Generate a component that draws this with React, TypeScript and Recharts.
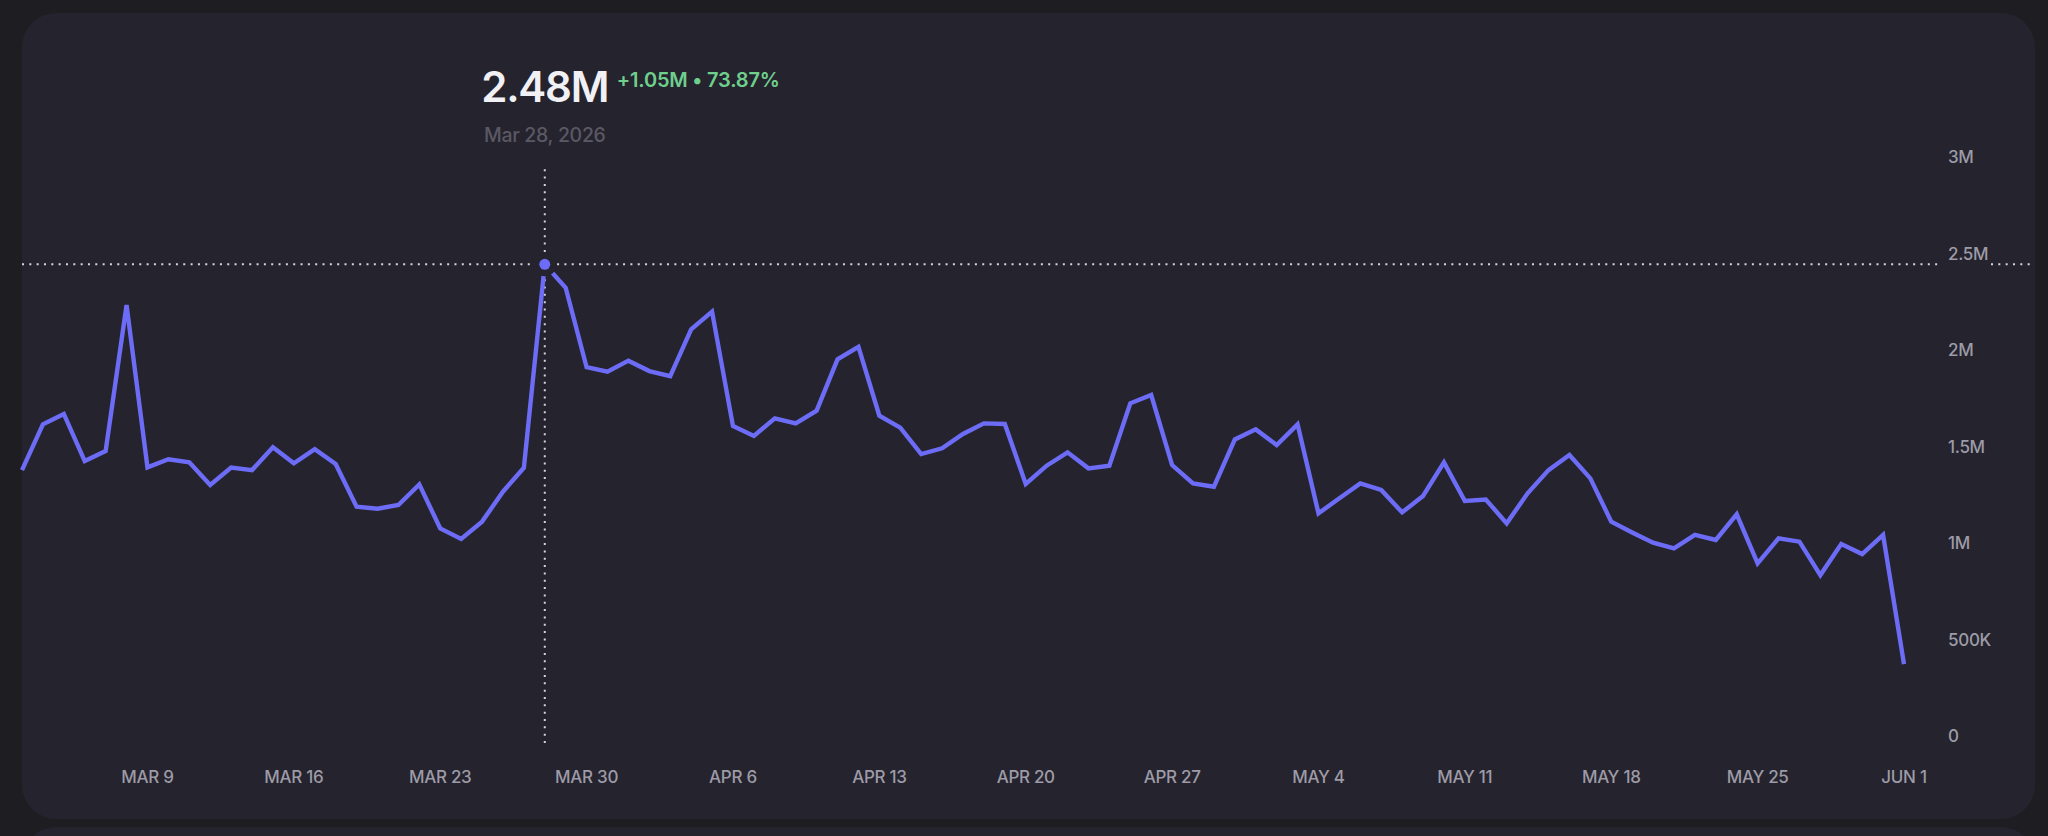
import React from "react";
import { LineChart, Line, XAxis, YAxis, ReferenceLine, ReferenceDot } from "recharts";

const dates = [
  "Mar 3", "Mar 4", "Mar 5", "Mar 6", "Mar 7", "Mar 8", "Mar 9", "Mar 10", "Mar 11", "Mar 12",
  "Mar 13", "Mar 14", "Mar 15", "Mar 16", "Mar 17", "Mar 18", "Mar 19", "Mar 20", "Mar 21", "Mar 22",
  "Mar 23", "Mar 24", "Mar 25", "Mar 26", "Mar 27", "Mar 28", "Mar 29", "Mar 30", "Mar 31",
  "Apr 1", "Apr 2", "Apr 3", "Apr 4", "Apr 5", "Apr 6", "Apr 7", "Apr 8", "Apr 9", "Apr 10",
  "Apr 11", "Apr 12", "Apr 13", "Apr 14", "Apr 15", "Apr 16", "Apr 17", "Apr 18", "Apr 19", "Apr 20",
  "Apr 21", "Apr 22", "Apr 23", "Apr 24", "Apr 25", "Apr 26", "Apr 27", "Apr 28", "Apr 29", "Apr 30",
  "May 1", "May 2", "May 3", "May 4", "May 5", "May 6", "May 7", "May 8", "May 9", "May 10",
  "May 11", "May 12", "May 13", "May 14", "May 15", "May 16", "May 17", "May 18", "May 19", "May 20",
  "May 21", "May 22", "May 23", "May 24", "May 25", "May 26", "May 27", "May 28", "May 29", "May 30",
  "May 31", "Jun 1",
];

const values = [
  1414000, 1651000, 1705000, 1461000, 1513000, 2269000, 1428000, 1470000, 1454000, 1337000,
  1427000, 1414000, 1532000, 1449000, 1522000, 1446000, 1224000, 1214000, 1233000, 1340000,
  1112000, 1057000, 1147000, 1302000, 1426350, 2480000, 2359000, 1947000, 1924000,
  1981000, 1927000, 1901000, 2143000, 2235000, 1642000, 1591000, 1682000, 1656000, 1722000,
  1988000, 2053000, 1696000, 1634000, 1497000, 1527000, 1601000, 1656000, 1653000, 1342000,
  1437000, 1506000, 1423000, 1437000, 1760000, 1803000, 1440000, 1345000, 1328000, 1573000,
  1625000, 1544000, 1651000, 1190000, 1268000, 1345000, 1311000, 1195000, 1280000, 1454000,
  1254000, 1262000, 1138000, 1294000, 1414000, 1492000, 1371000, 1147000, 1091000, 1038000,
  1009000, 1078000, 1052000, 1185000, 931000, 1060000, 1043000, 870000, 1031000, 979000,
  1078000, 409000,
];

const xTickDates = ["Mar 9", "Mar 16", "Mar 23", "Mar 30", "Apr 6", "Apr 13", "Apr 20", "Apr 27", "May 4", "May 11", "May 18", "May 25", "Jun 1"];
const xTickLabels = ["MAR 9", "MAR 16", "MAR 23", "MAR 30", "APR 6", "APR 13", "APR 20", "APR 27", "MAY 4", "MAY 11", "MAY 18", "MAY 25", "JUN 1"];
const yTicks = [0, 500000, 1000000, 1500000, 2000000, 2500000, 3000000];
const yTickLabels = ["0", "500K", "1M", "1.5M", "2M", "2.5M", "3M"];

const activeDate = "Mar 28";
const activeValue = 2480000;
const headerValue = "2.48M";
const headerChange = "+1.05M • 73.87%";
const headerDate = "Mar 28, 2026";

const data = dates.map((d, i) => ({ date: d, value: values[i] }));

const FONT = "Inter, 'Noto Sans', sans-serif";
const LINE = "#6c6cf6";
const CARD = "#25232d";
const PAGE = "#1e1d22";
const DOTTED = "#d6d4dc";

const XTick = (props: any) => {
  const { x, y, payload } = props;
  const idx = xTickDates.indexOf(payload.value);
  return (
    <text x={x} y={y + 40} textAnchor="middle" fill="#9d9ba7" fontSize={17} fontWeight={500} fontFamily={FONT} letterSpacing={-0.3}>
      {idx >= 0 ? xTickLabels[idx] : payload.value}
    </text>
  );
};

const YTick = (props: any) => {
  const { x, y, payload } = props;
  const idx = yTicks.indexOf(payload.value);
  return (
    <text x={x} y={y - 1} textAnchor="start" fill="#9d9ba7" fontSize={17} fontWeight={500} fontFamily={FONT} letterSpacing={-0.3}>
      {idx >= 0 ? yTickLabels[idx] : payload.value}
    </text>
  );
};

const HLine = (p: any) => {
  const y = p.y1;
  return (
    <g>
      <line x1={22} y1={y} x2={1942} y2={y} stroke={DOTTED} strokeWidth={2} strokeDasharray="2 5.33" />
      <line x1={1991} y1={y} x2={2030} y2={y} stroke={DOTTED} strokeWidth={2} strokeDasharray="2 5.33" />
    </g>
  );
};

const ActiveDot = (p: any) => {
  const { cx, cy } = p;
  return (
    <g>
      <circle cx={cx} cy={cy} r={12} fill={CARD} />
      <circle cx={cx} cy={cy} r={5.5} fill={LINE} />
      <text x={cx} y={102} textAnchor="middle" fill="#f1f0f5" fontSize={42} fontWeight={600} fontFamily={FONT} letterSpacing={-1.2}>
        {headerValue}
      </text>
      <text x={cx + 72} y={87} textAnchor="start" fill="#6fcf8d" fontSize={20} fontWeight={600} fontFamily={FONT} letterSpacing={-0.2}>
        {headerChange}
      </text>
      <text x={cx} y={142} textAnchor="middle" fill="#5a5864" fontSize={19.5} fontWeight={500} fontFamily={FONT} letterSpacing={-0.3}>
        {headerDate}
      </text>
    </g>
  );
};

export default function App() {
  return (
    <div style={{ position: "fixed", left: 0, top: 0, width: 2048, height: 836, background: PAGE, overflow: "hidden" }}>
      <div style={{ position: "absolute", left: 22, top: 13, width: 2013, height: 806, borderRadius: 34, background: CARD }} />
      <div style={{ position: "absolute", left: 22, top: 827, width: 2013, height: 200, borderRadius: 34, background: CARD }} />
      <div style={{ position: "absolute", left: 0, top: 0 }}>
        <LineChart width={2048} height={836} data={data} margin={{ top: 164, right: 0, bottom: 63, left: 22 }}>
          <XAxis
            dataKey="date"
            ticks={xTickDates}
            interval={0}
            axisLine={false}
            tickLine={false}
            tickSize={0}
            tickMargin={0}
            height={30}
            tick={<XTick />}
          />
          <YAxis
            orientation="right"
            domain={[0, 3000000]}
            ticks={yTicks}
            interval={0}
            axisLine={false}
            tickLine={false}
            tickSize={0}
            tickMargin={44}
            width={144}
            tick={<YTick />}
          />
          <ReferenceLine x={activeDate} stroke={DOTTED} strokeWidth={2} strokeDasharray="2 5.33" />
          <ReferenceLine y={activeValue} shape={HLine} />
          <Line type="linear" dataKey="value" stroke={LINE} strokeWidth={4.4} dot={false} activeDot={false} isAnimationActive={false} />
          <ReferenceDot x={activeDate} y={activeValue} r={5.5} shape={ActiveDot} />
        </LineChart>
      </div>
    </div>
  );
}
